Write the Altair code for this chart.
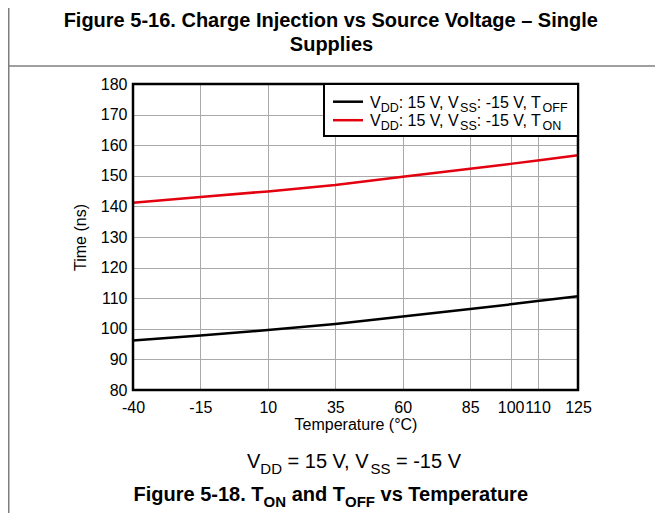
import altair as alt
import pandas as pd

# ---- data ----
temps = [-40, -15, 10, 35, 60, 85, 100, 110, 125]
t_off = [96.2, 97.8, 99.6, 101.6, 104.0, 106.5, 108.0, 109.1, 110.6]
t_on = [141.2, 143.1, 144.9, 147.0, 149.7, 152.3, 153.9, 155.0, 156.7]
x_ticks = [-40, -15, 10, 35, 60, 85, 100, 110, 125]
y_ticks = list(range(80, 181, 10))
series_names = ["TOFF", "TON"]

FONT = "Liberation Sans"
W, H = 445, 306
PAD_L, PAD_T = 125, 76
SVG_W, SVG_H = 647, 505

rows = []
for t, v in zip(temps, t_off):
    rows.append({"temp": t, "time": v, "series": "TOFF"})
for t, v in zip(temps, t_on):
    rows.append({"temp": t, "time": v, "series": "TON"})
df = pd.DataFrame(rows)

# ---- Arial / Liberation Sans advance widths (1/1000 em) ----
REG = {" ": 278, "(": 333, ")": 333, ",": 278, "-": 333, ".": 278, ":": 278, "=": 584,
       "°": 400, "–": 556}
BOLD = {" ": 278, "(": 333, ")": 333, ",": 278, "-": 333, ".": 278, ":": 333, "=": 584,
        "°": 400, "–": 556}
for d in "0123456789":
    REG[d] = 556
    BOLD[d] = 556
REG.update(dict(zip("ABCDEFGHIJKLMNOPQRSTUVWXYZ",
                    [667, 667, 722, 722, 667, 611, 778, 722, 278, 500, 667, 556, 833, 722, 778,
                     667, 778, 722, 667, 611, 722, 667, 944, 667, 667, 611])))
REG.update(dict(zip("abcdefghijklmnopqrstuvwxyz",
                    [556, 556, 500, 556, 556, 278, 556, 556, 222, 222, 500, 222, 833, 556, 556,
                     556, 556, 333, 500, 278, 556, 500, 722, 500, 500, 500])))
BOLD.update(dict(zip("ABCDEFGHIJKLMNOPQRSTUVWXYZ",
                     [722, 722, 722, 722, 667, 611, 778, 722, 278, 556, 722, 611, 833, 722, 778,
                      667, 778, 722, 667, 611, 722, 667, 944, 667, 667, 611])))
BOLD.update(dict(zip("abcdefghijklmnopqrstuvwxyz",
                     [556, 611, 556, 611, 556, 333, 611, 611, 278, 278, 556, 278, 889, 611, 611,
                      611, 611, 389, 556, 333, 611, 556, 778, 556, 556, 500])))


def width(s, size, bold):
    tab = BOLD if bold else REG
    return sum(tab.get(c, 556) for c in s) * size / 1000.0


def line_rows(segs, size, sub, bold, x, base, align="center"):
    """segs: list of (text, is_sub). x, base in page pixels. Vega trims text, so
    leading spaces are turned into an x offset."""
    widths = [width(t, sub if s else size, bold) for t, s in segs]
    total = sum(widths)
    cur = x - total / 2 if align == "center" else x
    out = []
    for (t, s), w in zip(segs, widths):
        fs = sub if s else size
        lead = len(t) - len(t.lstrip(" "))
        out.append({"px": cur + width(" " * lead, fs, bold) - 8 - PAD_L,
                    "py": base - 8 - PAD_T + (0.28 * size if s else 0),
                    "t": t.strip(" "), "fs": fs})
        cur += w
    return out


reg_rows, bold_rows = [], []
bold_rows += line_rows([("Figure 5-16. Charge Injection vs Source Voltage – Single", False)],
                       20, 15, True, 331.5, 27)
bold_rows += line_rows([("Supplies", False)], 20, 15, True, 331.5, 51)
reg_rows += line_rows([("V", False), ("DD", True), (" = 15 V, V", False), ("SS", True),
                       (" = -15 V", False)], 20, 15, False, 354, 468)
bold_rows += line_rows([("Figure 5-18. T", False), ("ON", True), (" and T", False),
                        ("OFF", True), (" vs Temperature", False)], 20, 15, True, 331.5, 501)
reg_rows += line_rows([("V", False), ("DD", True), (": 15 V, V", False), ("SS", True),
                       (": -15 V, T", False), ("OFF", True)], 16, 12.5, False, 370, 107.5, "left")
reg_rows += line_rows([("V", False), ("DD", True), (": 15 V, V", False), ("SS", True),
                       (": -15 V, T", False), ("ON", True)], 16, 12.5, False, 370, 126, "left")

reg_df = pd.DataFrame(reg_rows)
bold_df = pd.DataFrame(bold_rows)

def P(xp):
    return xp - 8 - PAD_L

def Q(yp):
    return yp - 8 - PAD_T

color_scale = alt.Scale(domain=series_names, range=["#000000", "#e3000f"])

lines = alt.Chart(df).mark_line(strokeWidth=2.5).encode(
    x=alt.X("temp:Q", scale=alt.Scale(domain=[-40, 125], nice=False),
            axis=alt.Axis(values=x_ticks, title="Temperature (°C)", labelOverlap=False,
                          labelFlush=False, titlePadding=1, labelExpr="'' + datum.value")),
    y=alt.Y("time:Q", scale=alt.Scale(domain=[80, 180], nice=False),
            axis=alt.Axis(values=y_ticks, title="Time (ns)", titlePadding=12,
                          labelExpr="'' + datum.value")),
    color=alt.Color("series:N", scale=color_scale, legend=None),
    detail="series:N",
)

one = pd.DataFrame({"k": [0]})

border = alt.Chart(one).mark_rect(fill="white", fillOpacity=0, stroke="black",
                                  strokeWidth=2.5).encode(
    x=alt.value(0), x2=alt.value(W), y=alt.value(0), y2=alt.value(H))

legend_box = alt.Chart(one).mark_rect(fill="white", stroke="black", strokeWidth=2).encode(
    x=alt.value(P(324)), x2=alt.value(W), y=alt.value(0), y2=alt.value(Q(136)))

leg_lines_df = pd.DataFrame({"series": series_names, "yy": [Q(101.7), Q(120.2)]})
leg_lines = alt.Chart(leg_lines_df).mark_rule(strokeWidth=2.5).encode(
    x=alt.value(P(333)), x2=alt.value(P(363)),
    y=alt.Y("yy:Q", scale=None),
    color=alt.Color("series:N", scale=color_scale, legend=None))

hline = alt.Chart(one).mark_rule(color="#7f7f7f", strokeWidth=1.5).encode(
    x=alt.value(-PAD_L), x2=alt.value(SVG_W - PAD_L), y=alt.value(Q(66)))
vline = alt.Chart(one).mark_rule(color="#7f7f7f", strokeWidth=1.5).encode(
    x=alt.value(-PAD_L + 0.75), y=alt.value(-PAD_T), y2=alt.value(SVG_H - PAD_T))

reg_text = alt.Chart(reg_df).mark_text(align="left", baseline="alphabetic", font=FONT,
                                       color="black").encode(
    x=alt.X("px:Q", scale=None), y=alt.Y("py:Q", scale=None),
    size=alt.Size("fs:Q", scale=None, legend=None), text="t:N")
bold_text = alt.Chart(bold_df).mark_text(align="left", baseline="alphabetic", font=FONT,
                                         fontWeight="bold", color="black").encode(
    x=alt.X("px:Q", scale=None), y=alt.Y("py:Q", scale=None),
    size=alt.Size("fs:Q", scale=None, legend=None), text="t:N")

chart = alt.layer(lines, border, legend_box, leg_lines, hline, vline, reg_text, bold_text).properties(
    width=W, height=H,
    padding={"left": PAD_L, "top": PAD_T, "right": SVG_W - PAD_L - W, "bottom": SVG_H - PAD_T - H},
    autosize=alt.AutoSizeParams(type="none"),
).configure_view(stroke=None).configure_axis(
    grid=True, gridColor="#a9a9a9", gridWidth=1, ticks=False, domain=False,
    labelFont=FONT, labelFontSize=16, labelColor="black",
    titleFont=FONT, titleFontSize=16, titleFontWeight="normal", titleColor="black",
).configure_axisX(labelPadding=9).configure_axisY(labelPadding=6)

chart.save("out.html", embed_options={"renderer": "svg", "actions": False})
